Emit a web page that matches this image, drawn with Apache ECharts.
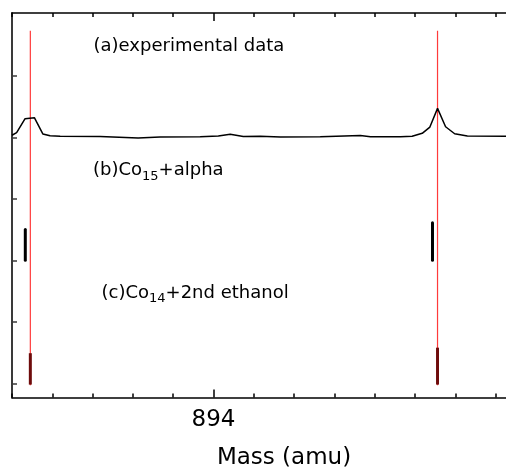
<!DOCTYPE html>
<html>
<head>
<meta charset="utf-8">
<script src="https://cdn.jsdelivr.net/npm/echarts@6/dist/echarts.min.js"></script>
<style>
html,body{margin:0;padding:0;background:#fff;}
#chart{width:506px;height:470px;}
</style>
</head>
<body>
<div id="chart"></div>
<script>
// ---- data ----
// (a) experimental spectrum (mass in amu, offset intensity)
var specX = [893.000, 893.023, 893.065, 893.111, 893.153, 893.189, 893.239, 893.437, 893.626, 893.735, 893.934, 894.024, 894.083, 894.148, 894.232, 894.332, 894.530, 894.729, 894.779, 894.928, 894.986, 895.036, 895.074, 895.112, 895.152, 895.197, 895.260, 895.455, 895.700];
var specY = [4.033, 4.075, 4.302, 4.319, 4.054, 4.026, 4.016, 4.013, 3.989, 4.005, 4.010, 4.021, 4.049, 4.013, 4.016, 4.005, 4.010, 4.028, 4.007, 4.010, 4.016, 4.064, 4.166, 4.470, 4.171, 4.057, 4.020, 4.016, 4.016];
// (b) Co15+alpha sticks: mass, base, top
var stickBX = [893.066, 895.087];
var stickBBase = [2.0, 2.0];
var stickBTop = [2.50, 2.61];
// (c) Co14+2nd ethanol sticks
var stickCX = [893.091, 895.112];
var stickCBase = [-0.02, -0.02];
var stickCTop = [0.49, 0.58];
// red reference lines
var refX = [893.091, 895.112];
var refBottom = -0.03;
var refTop = 5.73;
// axis
var xLabelValues = [894];
var yTickValues = [0, 1, 2, 3, 4, 5];
// annotation texts: [normal, subscript, normal]
var labelA = ['(a)experimental data'];
var labelB = ['(b)Co', '15', '+alpha'];
var labelC = ['(c)Co', '14', '+2nd ethanol'];
var xName = 'Mass (amu)';

// ---- build ----
function zip2(a, b) { return a.map(function (v, i) { return [v, b[i]]; }); }
function zip3(a, b, c) { return a.map(function (v, i) { return [v, b[i], c[i]]; }); }
function stickRenderer(color, width, cap) {
  return function (params, api) {
    var p0 = api.coord([api.value(0), api.value(1)]);
    var p1 = api.coord([api.value(0), api.value(2)]);
    return {
      type: 'line',
      shape: { x1: p0[0], y1: p0[1], x2: p1[0], y2: p1[1] },
      style: { stroke: color, lineWidth: width, lineCap: cap }
    };
  };
}
var FONT = 'DejaVu Sans';
var MAIN = 18, SUB = 13;
var ctx = document.createElement('canvas').getContext('2d');
function tw(t, size) { ctx.font = size + 'px "' + FONT + '"'; return ctx.measureText(t).width; }
function labelEls(parts, x, top) {
  var els = [], cx = x;
  parts.forEach(function (t, i) {
    var isSub = (i % 2 === 1);
    var size = isSub ? SUB : MAIN;
    els.push({
      type: 'text', x: cx, y: isSub ? top + 8.6 : top, z: 100,
      style: { text: t, fill: '#000', fontSize: size, fontFamily: FONT, lineHeight: size,
        textAlign: 'left', textVerticalAlign: 'top' }
    });
    cx += tw(t, size);
  });
  return els;
}
var xMin = 893, xMax = 895.7;
var chart = echarts.init(document.getElementById('chart'), null, { renderer: 'canvas' });
var baseX = { type: 'value', min: xMin, max: xMax, gridIndex: 0, splitLine: { show: false } };
chart.setOption({
  animation: false,
  backgroundColor: '#fff',
  grid: { left: 12, top: 13, width: 544, height: 384.5, containLabel: false, outerBoundsMode: 'none' },
  xAxis: [
    Object.assign({}, baseX, {
      position: 'bottom', interval: 0.2,
      name: xName, nameLocation: 'middle', nameGap: 49,
      nameTextStyle: { fontSize: 23, fontFamily: FONT, color: '#000' },
      axisLine: { show: true, onZero: false, lineStyle: { color: '#000', width: 1.5 } },
      axisTick: { show: true, inside: true, length: 4, lineStyle: { color: '#000', width: 1.5 } },
      axisLabel: { show: true, margin: 11, fontSize: 23, fontFamily: FONT, color: '#000',
        formatter: function (v) { return xLabelValues.some(function (t) { return Math.abs(t - v) < 1e-6; }) ? String(Math.round(v)) : ''; } }
    }),
    Object.assign({}, baseX, {
      position: 'bottom',
      axisLine: { show: false, onZero: false },
      axisTick: { show: true, inside: true, length: 8, customValues: xLabelValues, lineStyle: { color: '#000', width: 1.5 } },
      axisLabel: { show: false }
    }),
    Object.assign({}, baseX, {
      position: 'top', interval: 0.2,
      axisLine: { show: true, onZero: false, lineStyle: { color: '#000', width: 1.5 } },
      axisTick: { show: true, inside: true, length: 4, lineStyle: { color: '#000', width: 1.5 } },
      axisLabel: { show: false }
    }),
    Object.assign({}, baseX, {
      position: 'top',
      axisLine: { show: false, onZero: false },
      axisTick: { show: true, inside: true, length: 8, customValues: xLabelValues, lineStyle: { color: '#000', width: 1.5 } },
      axisLabel: { show: false }
    })
  ],
  yAxis: [{
    type: 'value', min: -0.23, max: 6.02, position: 'left',
    splitLine: { show: false },
    axisLine: { show: true, onZero: false, lineStyle: { color: '#3a3a3a', width: 2 } },
    axisTick: { show: true, inside: true, length: 5, customValues: yTickValues, lineStyle: { color: '#3a3a3a', width: 1.5 } },
    axisLabel: { show: false }
  }],
  graphic: [].concat(
    labelEls(labelA, 93.5, 37.5),
    labelEls(labelB, 93, 161.5),
    labelEls(labelC, 101.5, 284)
  ),
  series: [
    {
      type: 'custom', xAxisIndex: 0, yAxisIndex: 0, z: 2,
      renderItem: stickRenderer('#ff3a3a', 1.2, 'butt'),
      encode: { x: 0, y: [1, 2] },
      data: refX.map(function (x) { return [x, refBottom, refTop]; })
    },
    {
      type: 'line', xAxisIndex: 0, yAxisIndex: 0, z: 3,
      data: zip2(specX, specY), showSymbol: false, symbol: 'none',
      lineStyle: { color: '#000', width: 1.5 }
    },
    {
      type: 'custom', xAxisIndex: 0, yAxisIndex: 0, z: 4,
      renderItem: stickRenderer('#000', 3, 'round'),
      encode: { x: 0, y: [1, 2] },
      data: zip3(stickBX, stickBBase, stickBTop)
    },
    {
      type: 'custom', xAxisIndex: 0, yAxisIndex: 0, z: 4,
      renderItem: stickRenderer('#6e0b0b', 3, 'butt'),
      encode: { x: 0, y: [1, 2] },
      data: zip3(stickCX, stickCBase, stickCTop)
    }
  ]
});
</script>
</body>
</html>
